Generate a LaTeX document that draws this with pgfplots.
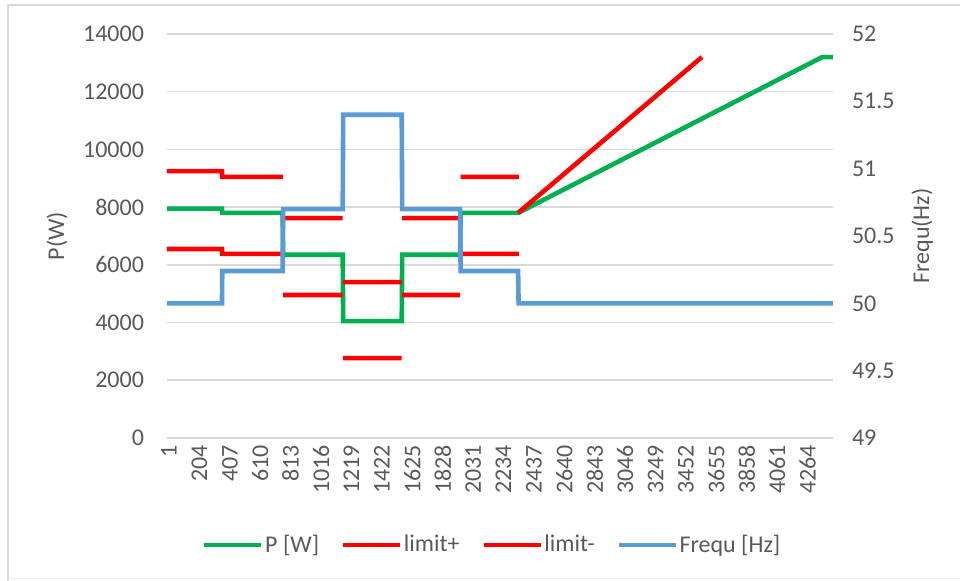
\documentclass[border=0pt]{standalone}
\usepackage{fontspec}
\setmainfont{Carlito}
\usepackage{pgfplots}
\pgfplotsset{compat=1.18}
\definecolor{pgreen}{HTML}{00B050}
\definecolor{lred}{HTML}{FF0000}
\definecolor{fblue}{HTML}{5B9BD5}
\definecolor{txt}{HTML}{595959}
\definecolor{gridc}{HTML}{D9D9D9}
\begin{document}
\begin{tikzpicture}[font=\fontsize{12}{14}\selectfont]
\path[use as bounding box] (-83.5pt,-71.5pt) rectangle (396.5pt,219pt);
\draw[gridc, line width=1pt] (-79.5pt,-71.5pt) -- (-79.5pt,216.5pt) -- (396.5pt,216.5pt);
\draw[gridc!50, line width=0.5pt] (-79.5pt,-70.5pt) -- (396.5pt,-70.5pt);
\pgfplotsset{
  base/.style={
    scale only axis, width=333pt, height=202pt,
    at={(0,0)}, anchor=south west,
    xmin=1, xmax=4447,
    axis line style={draw=none}, tick style={draw=none},
    unbounded coords=jump,
    every axis label/.append style={text=txt},
    yticklabel style={text=txt, /pgf/number format/assume math mode=true},
    xticklabel style={text=txt},
  }
}
\begin{axis}[base,
  ymin=0, ymax=14000, ytick={0,2000,4000,6000,8000,10000,12000,14000},
  scaled y ticks=false,
  yticklabel style={/pgf/number format/1000 sep={}, xshift=-8pt},
  ymajorgrids, grid style={gridc, line width=0.8pt},
  xtick={1,204,407,610,813,1016,1219,1422,1625,1828,2031,2234,2437,2640,2843,3046,3249,3452,3655,3858,4061,4264},
  xticklabels={1,204,407,610,813,1016,1219,1422,1625,1828,2031,2234,2437,2640,2843,3046,3249,3452,3655,3858,4061,4264},
  xticklabel style={rotate=90, anchor=east, yshift=-1pt},
  ylabel={P(W)},
  ylabel style={at={(axis description cs:-0.165,0.5)}, anchor=center},
]
% P [W]
\addplot[pgreen, line width=2.3pt] table {
x y
1 7950
368 7950
370 7800
773 7800
776 6350
1174 6350
1177 4050
1568 4050
1571 6350
1958 6350
1961 7800
2345 7800
4375 13200
4447 13200
};
% limit+
\addplot[lred, line width=2.3pt] table {
x y
1 9250
368 9250
370 9050
775 9050
nan nan
776 7620
1174 7620
nan nan
1177 5400
1568 5400
nan nan
1571 7620
1958 7620
nan nan
1961 9050
2350 9050
nan nan
2345 7800
3572 13200
};
% limit-
\addplot[lred, line width=2.3pt] table {
x y
1 6550
368 6550
370 6380
775 6380
nan nan
776 4955
1174 4955
nan nan
1177 2770
1568 2770
nan nan
1571 4955
1958 4955
nan nan
1961 6380
2350 6380
};
\end{axis}
\begin{axis}[base,
  axis x line=none,
  ymin=49, ymax=52, ytick={49,49.5,50,50.5,51,51.5,52},
  yticklabel pos=right,
  yticklabel style={anchor=west, xshift=6pt},
  ylabel={Frequ(Hz)},
  ylabel style={at={(axis description cs:1.134,0.5)}, anchor=center, rotate=0},
  legend style={at={(axis description cs:0.488,-0.265)}, anchor=center, draw=none, fill=none,
    legend columns=4, text=txt, font=\fontsize{12}{14}\selectfont,
    nodes={inner xsep=0.8pt},
    /tikz/every even column/.append style={column sep=10pt}},
  legend image code/.code={\draw[#1, line width=2.3pt] (0pt,0pt) -- (28.5pt,0pt);},
]
\addlegendimage{pgreen}
\addlegendentry{P [W]}
\addlegendimage{lred}
\addlegendentry{limit+}
\addlegendimage{lred}
\addlegendentry{limit-}
\addplot[fblue, line width=2.3pt] table {
x y
1 50.0
368 50.0
370 50.24
773 50.24
776 50.70
1174 50.70
1177 51.40
1568 51.40
1571 50.70
1958 50.70
1961 50.24
2345 50.24
2348 50.0
4447 50.0
};
\addlegendentry{Frequ [Hz]}
\end{axis}
\end{tikzpicture}
\end{document}
